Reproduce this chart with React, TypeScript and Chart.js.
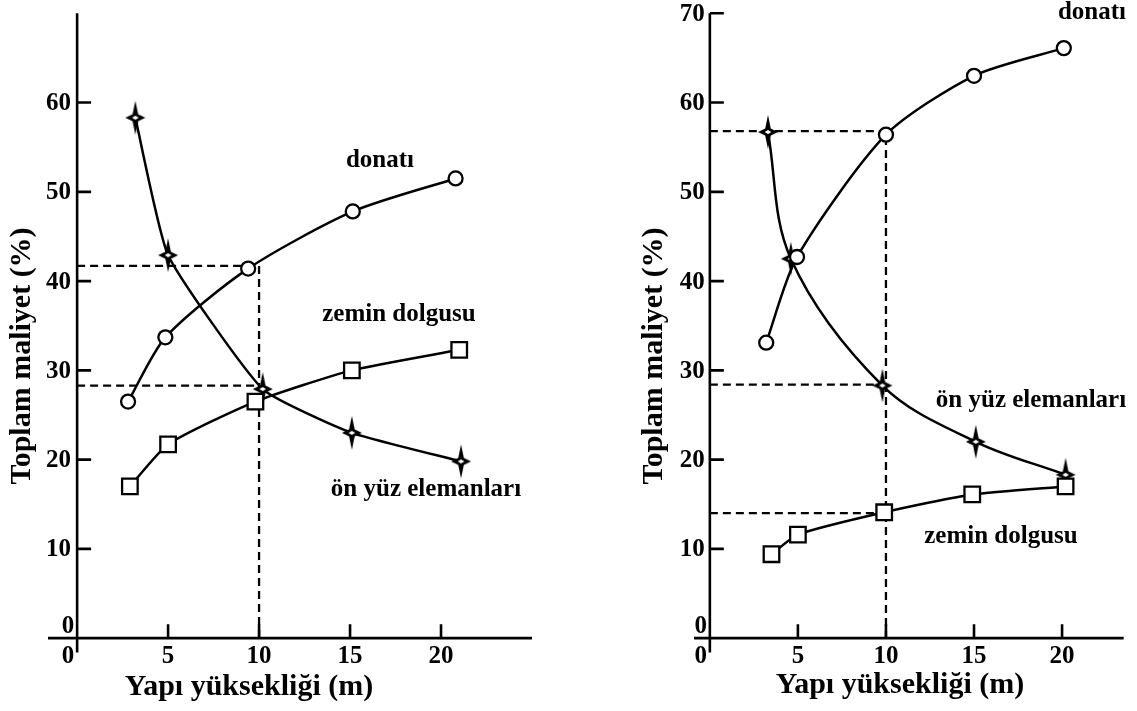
import { useEffect, useRef } from "react";
import { Chart, registerables } from "chart.js";

Chart.register(...registerables);

// ---------- data ----------
// Left panel
const leftDonatiX = [2.8, 4.85, 9.4, 15.15, 20.8];
const leftDonatiY = [26.5, 33.7, 41.4, 47.8, 51.5];
const leftZeminX = [2.9, 5.0, 9.8, 15.1, 21.0];
const leftZeminY = [17.0, 21.7, 26.5, 30.0, 32.3];
const leftOnYuzX = [3.2, 5.0, 10.2, 15.1, 21.1];
const leftOnYuzY = [58.3, 42.9, 27.9, 23.0, 19.8];
const leftGuideY = [41.7, 28.3];

// Right panel
const rightDonatiX = [3.2, 4.95, 10.0, 15.0, 20.1];
const rightDonatiY = [33.1, 42.7, 56.4, 63.0, 66.1];
const rightZeminX = [3.5, 5.0, 9.9, 14.9, 20.2];
const rightZeminY = [9.4, 11.6, 14.1, 16.1, 17.0];
const rightOnYuzX = [3.3, 4.6, 9.8, 15.1, 20.2];
const rightOnYuzY = [56.7, 42.5, 28.3, 22.0, 18.3];
const rightGuideY = [56.8, 28.4, 14.0];

const guideX = 10;
const xTicks = [5, 10, 15, 20];
const leftYTicks = [10, 20, 30, 40, 50, 60];
const rightYTicks = [10, 20, 30, 40, 50, 60, 70];

const xTitle = "Yapı yüksekliği (m)";
const yTitle = "Toplam maliyet (%)";
const nameDonati = "donatı";
const nameZemin = "zemin dolgusu";
const nameOnYuz = "ön yüz elemanları";

const FONT = '"Liberation Serif", "Times New Roman", serif';

function makeStar(): HTMLCanvasElement {
  const c = document.createElement("canvas");
  c.width = 22;
  c.height = 36;
  const g = c.getContext("2d")!;
  const cx = 11,
    cy = 18;
  g.fillStyle = "#000";
  g.beginPath();
  g.moveTo(cx, cy - 17);
  g.lineTo(cx + 2.8, cy - 3.5);
  g.lineTo(cx + 10, cy);
  g.lineTo(cx + 2.8, cy + 3.5);
  g.lineTo(cx, cy + 17);
  g.lineTo(cx - 2.8, cy + 3.5);
  g.lineTo(cx - 10, cy);
  g.lineTo(cx - 2.8, cy - 3.5);
  g.closePath();
  g.fill();
  g.beginPath();
  g.moveTo(cx, cy - 2.8);
  g.lineTo(cx + 4.5, cy);
  g.lineTo(cx, cy + 2.8);
  g.lineTo(cx - 4.5, cy);
  g.closePath();
  g.fillStyle = "#fff";
  g.fill();
  g.lineWidth = 1.3;
  g.strokeStyle = "#000";
  g.stroke();
  return c;
}

type Label = { text: string; x: number; y: number };
type PanelCfg = {
  donX: number[];
  donY: number[];
  zemX: number[];
  zemY: number[];
  onX: number[];
  onY: number[];
  guideYs: number[];
  yTicks: number[];
  xMin: number;
  xMax: number;
  padding: { left: number; right: number; top: number; bottom: number };
  yTitlePos: { x: number; y: number };
  xTitlePos: { x: number; y: number };
  labels: Label[];
  yLabelGap: number;
  onTension: number;
};

const leftCfg: PanelCfg = {
  donX: leftDonatiX,
  donY: leftDonatiY,
  zemX: leftZeminX,
  zemY: leftZeminY,
  onX: leftOnYuzX,
  onY: leftOnYuzY,
  guideYs: leftGuideY,
  yTicks: leftYTicks,
  xMin: -1.6,
  xMax: 25,
  padding: { left: 48, right: 38, top: 9, bottom: 55 },
  yTitlePos: { x: 22, y: 356 },
  xTitlePos: { x: 249, y: 687 },
  labels: [
    { text: nameDonati, x: 380, y: 161 },
    { text: nameZemin, x: 399, y: 315 },
    { text: nameOnYuz, x: 426, y: 490 },
  ],
  yLabelGap: 6,
  onTension: 0.15,
};

const rightCfg: PanelCfg = {
  donX: rightDonatiX,
  donY: rightDonatiY,
  zemX: rightZeminX,
  zemY: rightZeminY,
  onX: rightOnYuzX,
  onY: rightOnYuzY,
  guideYs: rightGuideY,
  yTicks: rightYTicks,
  xMin: -0.9,
  xMax: 23.5,
  padding: { left: 124, right: 0, top: 8, bottom: 55 },
  yTitlePos: { x: 84, y: 356 },
  xTitlePos: { x: 330, y: 685 },
  labels: [
    { text: nameDonati, x: 522, y: 13 },
    { text: nameOnYuz, x: 461, y: 401 },
    { text: nameZemin, x: 431, y: 537 },
  ],
  yLabelGap: 5,
  onTension: 0.35,
};

function buildChart(canvas: HTMLCanvasElement, cfg: PanelCfg): Chart {
  const pts = (xs: number[], ys: number[]) => xs.map((x, i) => ({ x, y: ys[i] }));
  const star = makeStar();
  const datasets: any[] = [];
  cfg.guideYs.forEach((gy, i) => {
    const data =
      i === 0
        ? [
            { x: 0, y: gy },
            { x: guideX, y: gy },
            { x: guideX, y: 0 },
          ]
        : [
            { x: 0, y: gy },
            { x: guideX, y: gy },
          ];
    datasets.push({
      data,
      showLine: true,
      borderColor: "#000",
      borderWidth: 2.3,
      borderDash: [8, 5],
      pointRadius: 0,
      tension: 0,
      order: 10,
    });
  });
  datasets.push({
    label: nameOnYuz,
    data: pts(cfg.onX, cfg.onY),
    showLine: true,
    borderColor: "#000",
    borderWidth: 2.5,
    tension: cfg.onTension,
    pointStyle: star,
    pointRadius: 10,
    order: 3,
  });
  datasets.push({
    label: nameZemin,
    data: pts(cfg.zemX, cfg.zemY),
    showLine: true,
    borderColor: "#000",
    borderWidth: 2.5,
    tension: 0.2,
    pointStyle: "rect",
    pointRadius: 11,
    pointBorderWidth: 2.3,
    pointBorderColor: "#000",
    pointBackgroundColor: "#fff",
    order: 2,
  });
  datasets.push({
    label: nameDonati,
    data: pts(cfg.donX, cfg.donY),
    showLine: true,
    borderColor: "#000",
    borderWidth: 2.5,
    tension: 0.25,
    pointStyle: "circle",
    pointRadius: 7,
    pointBorderWidth: 2.3,
    pointBorderColor: "#000",
    pointBackgroundColor: "#fff",
    order: 1,
  });

  const plugin = {
    id: "axesDraw",
    beforeDatasetsDraw(chart: any) {
      const ctx = chart.ctx as CanvasRenderingContext2D;
      const xs = chart.scales.x;
      const ys = chart.scales.y;
      const ax = xs.getPixelForValue(0);
      const ay = ys.getPixelForValue(0);
      ctx.save();
      ctx.strokeStyle = "#000";
      ctx.lineWidth = 2.6;
      ctx.beginPath();
      ctx.moveTo(xs.getPixelForValue(cfg.xMin), ay);
      ctx.lineTo(xs.getPixelForValue(cfg.xMax), ay);
      ctx.moveTo(ax, ys.getPixelForValue(-1.6));
      ctx.lineTo(ax, ys.getPixelForValue(70));
      for (const t of cfg.yTicks) {
        const py = ys.getPixelForValue(t);
        ctx.moveTo(ax, py);
        ctx.lineTo(ax + 14, py);
      }
      for (const t of xTicks) {
        const px = xs.getPixelForValue(t);
        ctx.moveTo(px, ay);
        ctx.lineTo(px, ay - 14);
      }
      ctx.stroke();
      ctx.restore();
    },
    afterDraw(chart: any) {
      const ctx = chart.ctx as CanvasRenderingContext2D;
      const xs = chart.scales.x;
      const ys = chart.scales.y;
      const ax = xs.getPixelForValue(0);
      const ay = ys.getPixelForValue(0);
      ctx.save();
      ctx.fillStyle = "#000";
      ctx.font = `bold 25px ${FONT}`;
      ctx.textAlign = "right";
      ctx.textBaseline = "middle";
      for (const t of cfg.yTicks) {
        ctx.fillText(String(t), ax - cfg.yLabelGap, ys.getPixelForValue(t) + 1);
      }
      ctx.textAlign = "center";
      ctx.fillText("0", ax - 9, ay - 12);
      ctx.textBaseline = "top";
      ctx.fillText("0", ax - 9, ay + 6);
      for (const t of xTicks) {
        ctx.fillText(String(t), xs.getPixelForValue(t), ay + 6);
      }
      ctx.textBaseline = "middle";
      for (const l of cfg.labels) {
        ctx.fillText(l.text, l.x, l.y);
      }
      ctx.font = `bold 30px ${FONT}`;
      ctx.fillText(xTitle, cfg.xTitlePos.x, cfg.xTitlePos.y);
      ctx.translate(cfg.yTitlePos.x, cfg.yTitlePos.y);
      ctx.rotate(-Math.PI / 2);
      ctx.fillText(yTitle, 0, 0);
      ctx.restore();
    },
  };

  return new Chart(canvas, {
    type: "scatter",
    data: { datasets },
    options: {
      responsive: false,
      animation: false,
      devicePixelRatio: 1,
      layout: { padding: cfg.padding },
      plugins: { legend: { display: false }, tooltip: { enabled: false } },
      events: [],
      scales: {
        x: { type: "linear", min: cfg.xMin, max: cfg.xMax, display: false },
        y: { type: "linear", min: -2, max: 70, display: false },
      },
      elements: { line: { borderCapStyle: "butt" } },
    } as any,
    plugins: [plugin],
  });
}

export default function App() {
  const leftRef = useRef<HTMLCanvasElement>(null);
  const rightRef = useRef<HTMLCanvasElement>(null);
  useEffect(() => {
    const a = buildChart(leftRef.current!, leftCfg);
    const b = buildChart(rightRef.current!, rightCfg);
    return () => {
      a.destroy();
      b.destroy();
    };
  }, []);
  return (
    <div style={{ position: "absolute", left: 0, top: 0, width: 1137, height: 711, background: "#fff" }}>
      <canvas
        ref={leftRef}
        width={570}
        height={711}
        style={{ position: "absolute", left: 0, top: 0, width: 570, height: 711 }}
      />
      <canvas
        ref={rightRef}
        width={567}
        height={711}
        style={{ position: "absolute", left: 570, top: 0, width: 567, height: 711 }}
      />
    </div>
  );
}
